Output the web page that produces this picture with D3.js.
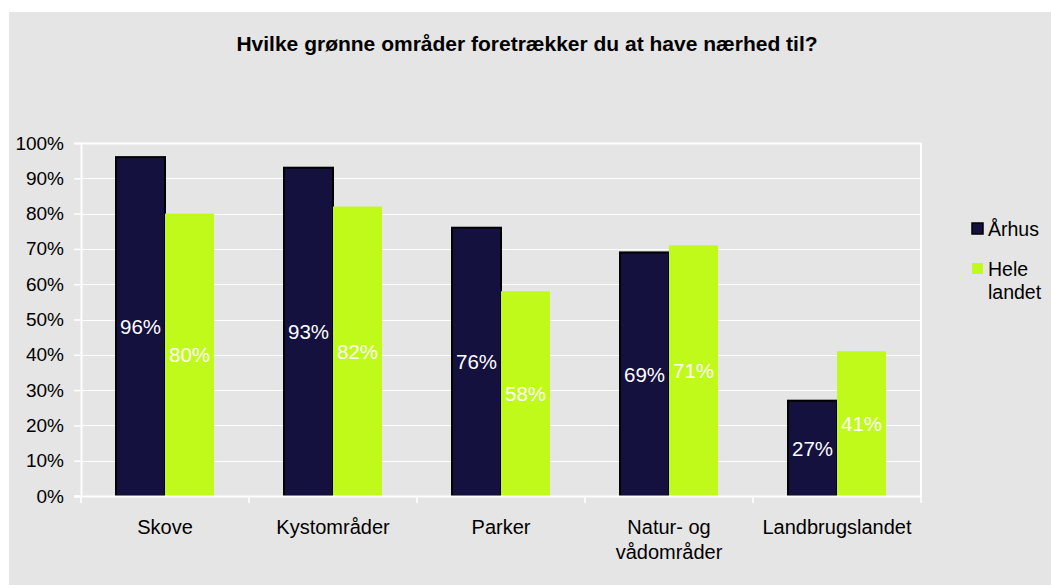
<!DOCTYPE html>
<html>
<head>
<meta charset="utf-8">
<script src="https://cdn.jsdelivr.net/npm/d3@7"></script>
<style>
  html, body { margin: 0; padding: 0; background: #ffffff; }
  svg { display: block; font-family: "Liberation Sans", Arial, sans-serif; }
</style>
</head>
<body>
<svg id="chart" width="1051" height="585"></svg>
<script>
const title = "Hvilke grønne områder foretrækker du at have nærhed til?";
const categories = [["Skove"], ["Kystområder"], ["Parker"], ["Natur- og", "vådområder"], ["Landbrugslandet"]];
const seriesNames = ["Århus", "Hele landet"];
const aarhus = [96, 93, 76, 69, 27];
const heleLandet = [80, 82, 58, 71, 41];
const yTicks = [0, 10, 20, 30, 40, 50, 60, 70, 80, 90, 100];
const colors = ["#14113f", "#bffa1a"];

const svg = d3.select("#chart");
const W = 1051, H = 585;
const plot = { left: 81, right: 921, top: 143, bottom: 496 };

// background
svg.append("rect").attr("x", 9).attr("y", 12).attr("width", W - 9).attr("height", H - 12).attr("fill", "#e5e5e5");

// title
svg.append("text").attr("x", 527).attr("y", 51).attr("text-anchor", "middle")
  .attr("font-size", 21).attr("font-weight", "bold").attr("fill", "#000").text(title);

const catIdx = categories.map((d, i) => i);
const x0 = d3.scaleBand().domain(catIdx).range([plot.left, plot.right]).paddingInner(0).paddingOuter(0);
const x1 = d3.scaleBand().domain([0, 1]).range([35, x0.bandwidth() - 35]);
const y = d3.scaleLinear().domain([0, 100]).range([plot.bottom, plot.top]);

// gridlines
svg.append("g").selectAll("line").data(yTicks.filter(t => t > 0)).join("line")
  .attr("x1", plot.left).attr("x2", plot.right)
  .attr("y1", d => Math.round(y(d)) + 0.5).attr("y2", d => Math.round(y(d)) + 0.5)
  .attr("stroke", "#ffffff").attr("stroke-width", d => d === 100 ? 2 : 1);
// right border
svg.append("line").attr("x1", plot.right).attr("x2", plot.right).attr("y1", plot.top).attr("y2", plot.bottom)
  .attr("stroke", "#fff").attr("stroke-width", 2);

// y axis
const yAxis = svg.append("g").attr("transform", `translate(${plot.left},0)`)
  .call(d3.axisLeft(y).tickValues(yTicks).tickFormat(d => d + "%").tickSize(7).tickPadding(10));
yAxis.select(".domain").attr("stroke", "#fff").attr("stroke-width", 2);
yAxis.selectAll(".tick line").attr("stroke", "#fff").attr("stroke-width", 1.5);
yAxis.selectAll(".tick text").attr("font-size", 19).attr("fill", "#000").attr("font-family", "Liberation Sans, Arial, sans-serif");

const data = catIdx.map(i => [aarhus[i], heleLandet[i]]);

// bars
const groups = svg.append("g").selectAll("g").data(data).join("g")
  .attr("transform", (d, i) => `translate(${x0(i)},0)`);
groups.selectAll("rect").data(d => d.map((v, s) => ({ v, s }))).join("rect")
  .attr("x", d => x1(d.s)).attr("width", x1.bandwidth())
  .attr("y", d => y(d.v)).attr("height", d => y(0) - y(d.v))
  .attr("fill", d => colors[d.s])
  .attr("stroke", d => d.s === 0 ? "#000" : "none")
  .attr("stroke-width", 2);
groups.selectAll("text").data(d => d.map((v, s) => ({ v, s }))).join("text")
  .attr("x", d => x1(d.s) + x1.bandwidth() / 2)
  .attr("y", d => (y(d.v) + y(0)) / 2 + 7.5)
  .attr("text-anchor", "middle").attr("font-size", 20.5).attr("fill", "#fff")
  .text(d => d.v + "%");

// x axis
const xAxis = svg.append("g").attr("transform", `translate(0,${plot.bottom})`);
xAxis.append("line").attr("x1", plot.left - 7).attr("x2", plot.right).attr("y1", 0.5).attr("y2", 0.5)
  .attr("stroke", "#fff").attr("stroke-width", 2);
const boundaries = catIdx.map(i => x0(i)).concat([plot.right]);
xAxis.selectAll("line.tk").data(boundaries).join("line").attr("class", "tk")
  .attr("x1", d => d).attr("x2", d => d).attr("y1", 0).attr("y2", 7)
  .attr("stroke", "#fff").attr("stroke-width", 1.5);
const xl = xAxis.selectAll("text").data(categories).join("text")
  .attr("x", (d, i) => x0(i) + x0.bandwidth() / 2).attr("y", 38)
  .attr("text-anchor", "middle").attr("font-size", 20).attr("fill", "#000");
xl.selectAll("tspan").data(d => d).join("tspan")
  .attr("x", function() { return this.parentNode.getAttribute("x"); })
  .attr("dy", (d, i) => i === 0 ? 0 : 25).text(d => d);

// legend
const legend = svg.append("g");
const legItems = [{ name: ["Århus"], y: 223 }, { name: ["Hele", "landet"], y: 263 }];
legItems.forEach((it, s) => {
  legend.append("rect").attr("x", 972).attr("y", it.y).attr("width", 11).attr("height", 11)
    .attr("fill", colors[s]).attr("stroke", s === 0 ? "#000" : "none").attr("stroke-width", 1.5);
  const t = legend.append("text").attr("x", 988).attr("y", it.y + 13).attr("font-size", 19.5).attr("fill", "#000");
  it.name.forEach((n, k) => t.append("tspan").attr("x", 988).attr("dy", k === 0 ? 0 : 23).text(n));
});
</script>
</body>
</html>
